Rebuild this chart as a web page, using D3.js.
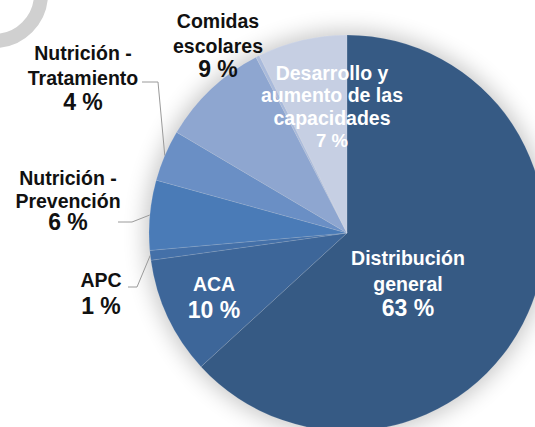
<!DOCTYPE html>
<html>
<head>
<meta charset="utf-8">
<script src="https://cdn.jsdelivr.net/npm/d3@7"></script>
<style>
  body { margin: 0; background: #fff; }
  svg { display: block; }
  text { font-family: Arial, "Liberation Sans", sans-serif; font-weight: bold; font-size: 19.5px; }
</style>
</head>
<body>
<div id="chart"></div>
<script>
// slice data, clockwise from 12 o'clock
var categories = ["Distribución general", "ACA", "APC", "Nutrición - Prevención",
                  "Nutrición - Tratamiento", "Comidas escolares", "Otros",
                  "Desarrollo y aumento de las capacidades"]
var shares = [63.2, 9.6, 0.8, 5.7, 4.2, 8.9, 0.3, 7.3]
var labelLines = [["Distribución", "general"], ["ACA"], ["APC"], ["Nutrición -", "Prevención"],
                  ["Nutrición -", "Tratamiento"], ["Comidas", "escolares"], null,
                  ["Desarrollo y", "aumento de las", "capacidades"]]

var W = 535, H = 427,
    CX = 347, CY = 233, R = 198

var colors = ["#365a84", "#3d6699", "#4470a8", "#4a7bb7", "#6a8fc5", "#8ea6d0", "#a9badb", "#c6cfe3"]

// label block layout: centre x, first baseline, line height, percent font size, inside?, leader elbow
var layout = [
    { x: 408, y: 265, lh: 25.5, pct: 23, inside: true },
    { x: 214, y: 291, lh: 27, pct: 23, inside: true },
    { x: 101, y: 287, lh: 27, pct: 23, inside: false, lead: [[128, 287], [137, 287]] },
    { x: 68, y: 185, lh: 22.5, pct: 23, inside: false, lead: [[118, 222], [132, 222]] },
    { x: 83, y: 60, lh: 25, pct: 23, inside: false, lead: [[142, 82], [158, 82]] },
    { x: 218, y: 28, lh: 24.5, pct: 23, inside: false },
    null,
    { x: 332, y: 80, lh: 22.3, pct: 18.5, inside: true }
]

var svg = d3.select("#chart").append("svg")
    .attr("width", W)
    .attr("height", H)

var defs = svg.append("defs")
defs.append("filter")
    .attr("id", "glow")
    .attr("x", "-30%").attr("y", "-30%")
    .attr("width", "160%").attr("height", "160%")
  .append("feGaussianBlur")
    .attr("stdDeviation", 11)

// grey ring in the corner
svg.append("circle")
    .attr("cx", -6).attr("cy", -6).attr("r", 47)
    .style("fill", "none")
    .style("stroke", "#d0d0d0")
    .style("stroke-width", 14)

// soft shadow round the pie
svg.append("circle")
    .attr("cx", CX).attr("cy", CY).attr("r", R + 4)
    .style("fill", "#000")
    .style("opacity", 0.22)
    .attr("filter", "url(#glow)")

var pie = d3.pie().sort(null).value(d => d)
var arc = d3.arc().innerRadius(0).outerRadius(R)
var arcs = pie(shares)

var g = svg.append("g").attr("transform", "translate(" + [CX, CY] + ")")

g.selectAll("path.slice")
    .data(arcs)
    .join("path")
    .attr("class", "slice")
    .attr("d", arc)
    .style("fill", (d, i) => colors[i])
    .style("stroke", "rgba(255,255,255,0.2)")
    .style("stroke-width", 0.6)

// leader lines: elbow then to the rim at the slice's mid angle
arcs.forEach(function(a, i) {
    var L = layout[i]
    if (!L || !L.lead) return
    var mid = (a.startAngle + a.endAngle) / 2
    var rim = [CX + R * Math.sin(mid), CY - R * Math.cos(mid)]
    svg.append("path")
        .attr("d", d3.line()(L.lead.concat([rim])))
        .style("fill", "none")
        .style("stroke", "#9a9a9a")
        .style("stroke-width", 1)
})

// labels: name lines, then the rounded share in a larger size
arcs.forEach(function(a, i) {
    var L = layout[i]
    if (!L) return
    var lines = labelLines[i].concat([Math.round(shares[i]) + " %"])
    var t = svg.append("text")
        .attr("text-anchor", "middle")
        .style("fill", L.inside ? "#fff" : "#111")
    lines.forEach(function(s, k) {
        var span = t.append("tspan")
            .attr("x", L.x)
            .attr("y", L.y + k * L.lh)
            .text(s)
        if (k == lines.length - 1) span.style("font-size", L.pct + "px")
    })
})
</script>
</body>
</html>
